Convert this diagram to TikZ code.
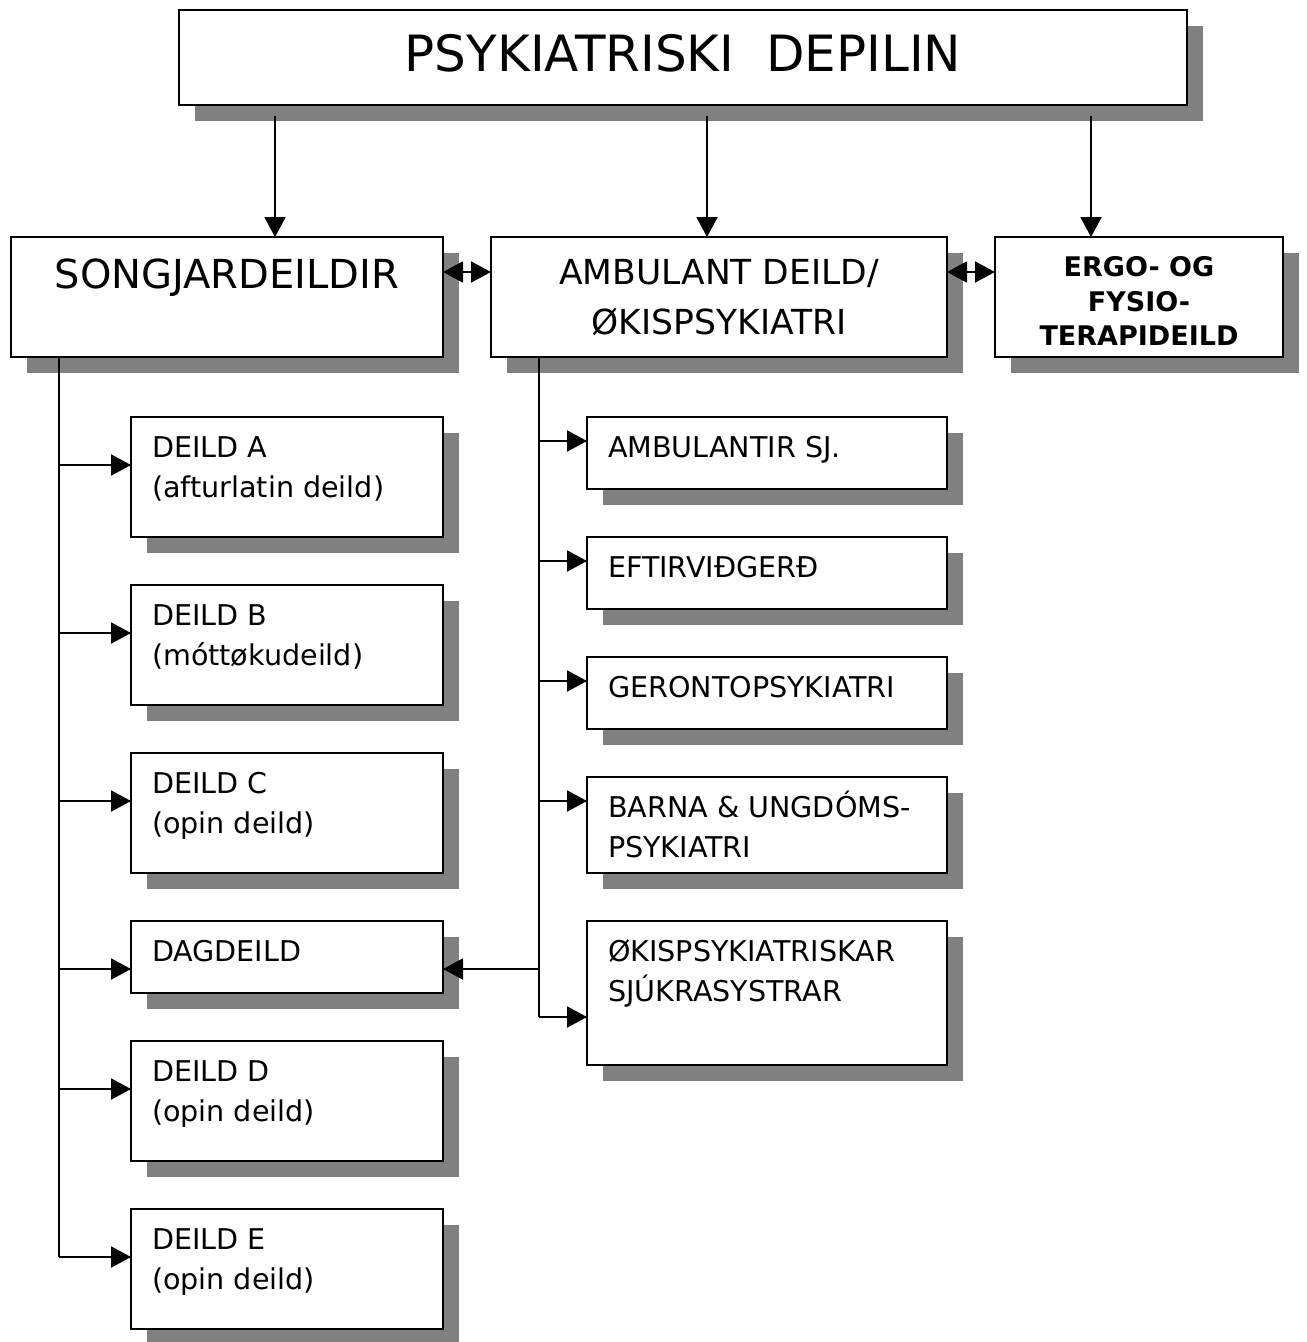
\documentclass[tikz,border=0pt]{standalone}
\usepackage{fontspec}
\setmainfont{DejaVu Sans}
\usetikzlibrary{shadows,arrows.meta,calc}
\definecolor{shadowgray}{HTML}{808080}
\begin{document}
\begin{tikzpicture}[x=1pt,y=-1pt,
  box/.style={draw=black,line width=2.2pt,fill=white,inner sep=0pt,outer sep=0pt,anchor=north west,
    drop shadow={shadow xshift=16pt,shadow yshift=-16pt,fill=shadowgray,opacity=1}},
  txt/.style={inner sep=0pt,outer sep=0pt,align=left,anchor=north west,font=\fontsize{28.6}{40}\selectfont},
  ctxt/.style={inner sep=0pt,outer sep=0pt,align=center,anchor=north},
  conn/.style={line width=2pt},
  arr/.style={line width=2pt,-{Triangle[length=20pt,width=21pt]}},
  darr/.style={line width=2pt,{Triangle[length=20pt,width=21pt]}-{Triangle[length=20pt,width=21pt]}}
]
\useasboundingbox (0,0) rectangle (1307,1342);

% title
\node[box,minimum width=1008pt,minimum height=95pt] (title) at (179,10) {};
\node[ctxt,font=\fontsize{50}{60}\selectfont] (titletxt) at ($(title.north)+(0,19)$) {\strut PSYKIATRISKI\ \ DEPILIN};

% second level
\node[box,minimum width=432pt,minimum height=120pt] (songj) at (11,237) {};
\node[ctxt,font=\fontsize{40}{50}\selectfont] (songjtxt) at ($(songj.north)+(0,16)$) {\strut SONGJARDEILDIR};
\node[box,minimum width=456pt,minimum height=120pt] (amb) at (491,237) {};
\node[ctxt,font=\fontsize{34.5}{50}\selectfont] (ambtxt) at ($(amb.north)+(0,12)$) {\strut AMBULANT DEILD/\\\strut ØKISPSYKIATRI};
\node[box,minimum width=288pt,minimum height=120pt] (ergo) at (995,237) {};
\node[ctxt,font=\bfseries\fontsize{27}{34.5}\selectfont] (ergotxt) at ($(ergo.north)+(0,15.5)$) {\strut ERGO- OG\\\strut FYSIO-\\\strut TERAPIDEILD};

% left column
\node[box,minimum width=312pt,minimum height=120pt] (dA) at (131,417) {};
\node[txt] (dAtxt) at ($(dA.north west)+(21,12)$) {\strut DEILD A\\\strut (afturlatin deild)};
\node[box,minimum width=312pt,minimum height=120pt] (dB) at (131,585) {};
\node[txt] (dBtxt) at ($(dB.north west)+(21,12)$) {\strut DEILD B\\\strut (móttøkudeild)};
\node[box,minimum width=312pt,minimum height=120pt] (dC) at (131,753) {};
\node[txt] (dCtxt) at ($(dC.north west)+(21,12)$) {\strut DEILD C\\\strut (opin deild)};
\node[box,minimum width=312pt,minimum height=72pt] (dag) at (131,921) {};
\node[txt] (dagtxt) at ($(dag.north west)+(21,12)$) {\strut DAGDEILD};
\node[box,minimum width=312pt,minimum height=120pt] (dD) at (131,1041) {};
\node[txt] (dDtxt) at ($(dD.north west)+(21,12)$) {\strut DEILD D\\\strut (opin deild)};
\node[box,minimum width=312pt,minimum height=120pt] (dE) at (131,1209) {};
\node[txt] (dEtxt) at ($(dE.north west)+(21,12)$) {\strut DEILD E\\\strut (opin deild)};

% right column
\node[box,minimum width=360pt,minimum height=72pt] (r1) at (587,417) {};
\node[txt] (r1txt) at ($(r1.north west)+(21,12)$) {\strut AMBULANTIR SJ.};
\node[box,minimum width=360pt,minimum height=72pt] (r2) at (587,537) {};
\node[txt] (r2txt) at ($(r2.north west)+(21,12)$) {\strut EFTIRVIÐGERÐ};
\node[box,minimum width=360pt,minimum height=72pt] (r3) at (587,657) {};
\node[txt] (r3txt) at ($(r3.north west)+(21,12)$) {\strut GERONTOPSYKIATRI};
\node[box,minimum width=360pt,minimum height=96pt] (r4) at (587,777) {};
\node[txt] (r4txt) at ($(r4.north west)+(21,12)$) {\strut BARNA \& UNGDÓMS-\\\strut PSYKIATRI};
\node[box,minimum width=360pt,minimum height=144pt] (r5) at (587,921) {};
\node[txt] (r5txt) at ($(r5.north west)+(21,12)$) {\strut ØKISPSYKIATRISKAR\\\strut SJÚKRASYSTRAR};

% top arrows
\coordinate (t1) at (275,116);
\coordinate (t2) at (707,116);
\coordinate (t3) at (1091,116);
\draw[arr] (t1) -- (t1 |- songj.north);
\draw[arr] (t2) -- (t2 |- amb.north);
\draw[arr] (t3) -- (t3 |- ergo.north);

% double arrows
\coordinate (h) at ($(songj.north east)+(0,35)$);
\draw[darr] (h) -- (h -| amb.west);
\draw[darr] (h -| amb.east) -- (h -| ergo.west);

% left trunk
\coordinate (lt) at ($(songj.south west)+(48,0)$);
\foreach \b in {dA,dB,dC,dag,dD,dE}{
  \coordinate (a\b) at ($(\b.north west)+(0,48)$);
  \draw[arr] (lt |- a\b) -- (a\b);
}
\draw[conn] (lt) -- (lt |- adE);

% right trunk
\coordinate (rt) at ($(amb.south west)+(48,0)$);
\foreach \b in {r1,r2,r3,r4}{
  \coordinate (a\b) at ($(\b.north west)+(0,24)$);
  \draw[arr] (rt |- a\b) -- (a\b);
}
\coordinate (ar5) at ($(r5.north west)+(0,96)$);
\draw[arr] (rt |- ar5) -- (ar5);
\draw[conn] (rt) -- (rt |- ar5);
\coordinate (dagr) at ($(dag.north east)+(0,48)$);
\draw[arr] (rt |- dagr) -- (dagr);
\end{tikzpicture}
\end{document}
